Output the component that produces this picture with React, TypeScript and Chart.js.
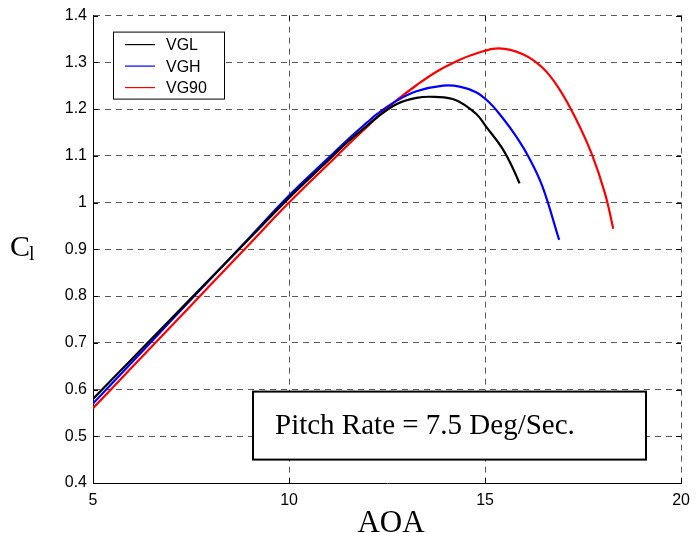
import React, { useEffect, useRef } from "react";
import { Chart, registerables } from "chart.js";

Chart.register(...registerables);

// Lift coefficient vs angle of attack, three vortex-generator configurations
const vglAoa = [5, 6, 7, 8, 9, 10, 11, 11.5, 12, 12.24, 12.75, 13.25, 13.72, 14.26, 14.77, 15.02, 15.44, 15.7, 15.88];
const vglCl = [0.58, 0.666, 0.752, 0.838, 0.924, 1.01, 1.09, 1.13, 1.165, 1.182, 1.211, 1.224, 1.226, 1.219, 1.19, 1.163, 1.116, 1.075, 1.041];

const vghAoa = [5, 6, 7, 8, 9, 10, 11, 11.5, 12, 12.24, 12.75, 13.25, 13.93, 14.35, 14.77, 15.11, 15.44, 15.78, 16.12, 16.46, 16.89];
const vghCl = [0.57, 0.659, 0.748, 0.837, 0.926, 1.015, 1.095, 1.135, 1.172, 1.189, 1.218, 1.238, 1.25, 1.248, 1.236, 1.214, 1.182, 1.143, 1.096, 1.035, 0.92];

const vg90Aoa = [5, 6, 7, 8, 9, 10, 11, 11.5, 12, 12.24, 12.75, 13.25, 13.76, 14.26, 14.77, 15.36, 15.95, 16.46, 16.87, 17.3, 17.72, 18.06, 18.27];
const vg90Cl = [0.56, 0.648, 0.736, 0.824, 0.912, 1.0, 1.082, 1.123, 1.163, 1.182, 1.219, 1.251, 1.28, 1.302, 1.319, 1.33, 1.318, 1.289, 1.246, 1.182, 1.104, 1.019, 0.944];

const seriesNames = ["VGL", "VGH", "VG90"];
const seriesColors = ["#000000", "#0000ff", "#ff0000"];
const noteText = "Pitch Rate = 7.5 Deg/Sec.";
const xTitle = "AOA";

const toPoints = (xs: number[], ys: number[]) => xs.map((x, i) => ({ x, y: ys[i] }));

const sans = "'Liberation Sans', Arial, sans-serif";
const serif = "'Liberation Serif', 'Times New Roman', serif";

const decorations = {
  id: "decorations",
  afterDatasetsDraw(chart: any) {
    const { ctx, chartArea } = chart;
    const { left, right, top, bottom } = chartArea;
    const xs = chart.scales.x;
    const ys = chart.scales.y;
    ctx.save();

    // inward tick marks on all four sides
    ctx.strokeStyle = "#000";
    ctx.lineWidth = 1;
    ctx.beginPath();
    ys.ticks.forEach((t: any) => {
      const p = Math.round(ys.getPixelForValue(t.value)) + 0.5;
      ctx.moveTo(left, p);
      ctx.lineTo(left + 5, p);
      ctx.moveTo(right, p);
      ctx.lineTo(right - 5, p);
    });
    xs.ticks.forEach((t: any) => {
      const p = Math.round(xs.getPixelForValue(t.value)) + 0.5;
      ctx.moveTo(p, bottom);
      ctx.lineTo(p, bottom - 5);
      ctx.moveTo(p, top);
      ctx.lineTo(p, top + 5);
    });
    ctx.stroke();

    // legend box
    const lx = left + 20;
    const ly = top + 16;
    const lw = 111;
    const lh = 67;
    ctx.fillStyle = "#fff";
    ctx.fillRect(lx, ly, lw, lh);
    ctx.strokeStyle = "#000";
    ctx.lineWidth = 1;
    ctx.strokeRect(lx + 0.5, ly + 0.5, lw, lh);
    ctx.font = `16px ${sans}`;
    ctx.textBaseline = "middle";
    seriesNames.forEach((name, i) => {
      const y = ly + 13 + i * 21.5;
      ctx.strokeStyle = seriesColors[i];
      ctx.lineWidth = 1.2;
      ctx.beginPath();
      ctx.moveTo(lx + 12, y);
      ctx.lineTo(lx + 42, y);
      ctx.stroke();
      ctx.fillStyle = "#000";
      ctx.fillText(name, lx + 53, y + 1);
    });

    // annotation box
    const bx = left + 160;
    const by = top + 376;
    const bw = 393;
    const bh = 68;
    ctx.fillStyle = "#fff";
    ctx.fillRect(bx, by, bw, bh);
    ctx.strokeStyle = "#000";
    ctx.lineWidth = 2;
    ctx.strokeRect(bx, by, bw, bh);
    ctx.fillStyle = "#000";
    ctx.font = `29px ${serif}`;
    ctx.textBaseline = "alphabetic";
    ctx.textAlign = "left";
    ctx.fillText(noteText, bx + 22, by + 42);

    // axis titles
    ctx.font = `31px ${serif}`;
    ctx.textAlign = "center";
    ctx.fillText(xTitle, 391, 532);
    ctx.textAlign = "left";
    ctx.font = `30px ${serif}`;
    ctx.fillText("C", 10, 256);
    ctx.font = `20px ${serif}`;
    ctx.fillText("l", 29, 260);

    ctx.restore();
  },
};

export default function App() {
  const ref = useRef<HTMLCanvasElement | null>(null);

  useEffect(() => {
    if (!ref.current) return;
    const gridColor = "rgba(0,0,0,0.65)";
    const chart = new Chart(ref.current, {
      type: "line",
      data: {
        datasets: [
          { label: seriesNames[0], data: toPoints(vglAoa, vglCl) },
          { label: seriesNames[1], data: toPoints(vghAoa, vghCl) },
          { label: seriesNames[2], data: toPoints(vg90Aoa, vg90Cl) },
        ].map((d, i) => ({
          ...d,
          borderColor: seriesColors[i],
          backgroundColor: seriesColors[i],
          borderWidth: 2.2,
          pointRadius: 0,
          tension: 0.4,
          fill: false,
        })),
      },
      options: {
        responsive: false,
        animation: false,
        layout: { padding: { left: 0, right: 11, top: 15, bottom: 0 } },
        plugins: { legend: { display: false }, tooltip: { enabled: false } },
        scales: {
          x: {
            type: "linear",
            min: 5,
            max: 20,
            ticks: { stepSize: 5, color: "#000", font: { family: sans, size: 16 }, padding: 8, maxRotation: 0 },
            grid: { color: gridColor, drawTicks: false, lineWidth: 1 },
            border: { color: "#000", width: 1, dash: [6, 5] },
            afterFit: (s: any) => { s.height = 50; },
          },
          y: {
            min: 0.4,
            max: 1.4,
            ticks: {
              stepSize: 0.1,
              color: "#000",
              font: { family: sans, size: 16 },
              padding: 6,
              callback: (v: any) => String(Number(Number(v).toFixed(1))),
            },
            grid: { color: gridColor, drawTicks: false, lineWidth: 1 },
            border: { color: "#000", width: 1, dash: [6, 5] },
            afterFit: (s: any) => { s.width = 93; },
          },
        },
      },
      plugins: [decorations],
    });
    return () => chart.destroy();
  }, []);

  return (
    <div style={{ position: "fixed", left: 0, top: 0, width: 698, height: 533, background: "#fff" }}>
      <canvas ref={ref} width={698} height={533} />
    </div>
  );
}
